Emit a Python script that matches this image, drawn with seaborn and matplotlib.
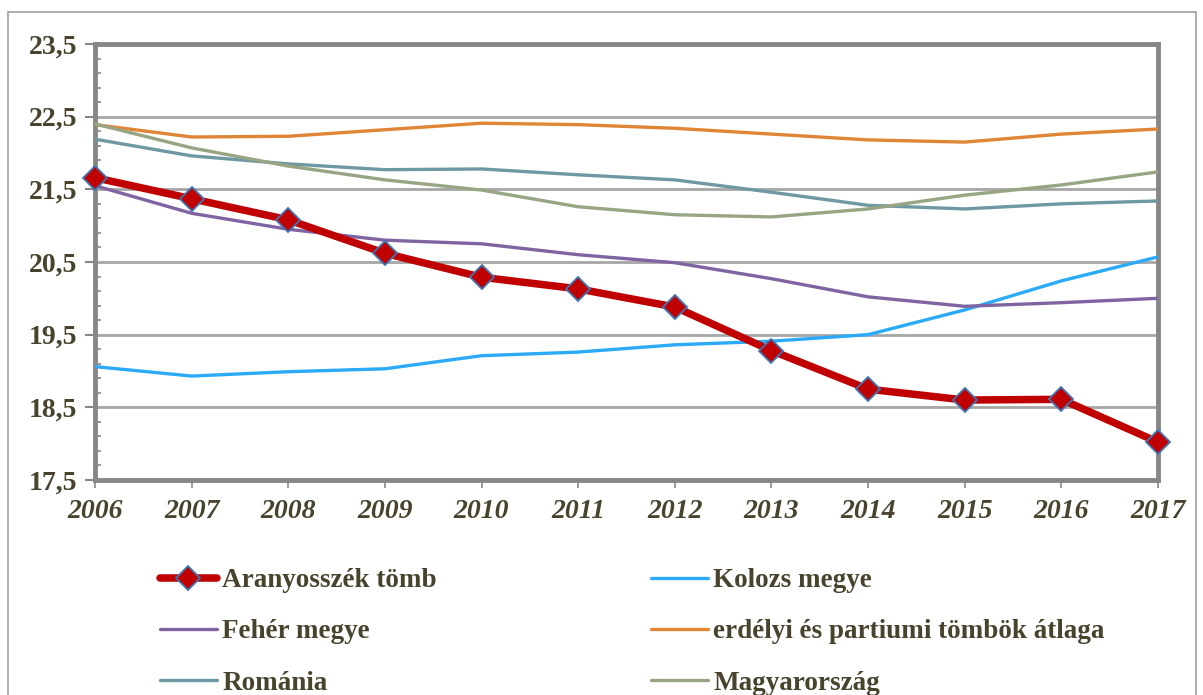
import numpy as np
import pandas as pd
import seaborn as sns
import matplotlib.pyplot as plt
from matplotlib.patches import Rectangle

# data
years = [2006, 2007, 2008, 2009, 2010, 2011, 2012, 2013, 2014, 2015, 2016, 2017]
aranyosszek = [21.66, 21.37, 21.08, 20.62, 20.29, 20.13, 19.88, 19.28, 18.75, 18.60, 18.61, 18.02]
kolozs = [19.06, 18.93, 18.99, 19.03, 19.21, 19.26, 19.36, 19.41, 19.50, 19.84, 20.24, 20.57]
feher = [21.55, 21.17, 20.95, 20.80, 20.75, 20.60, 20.49, 20.27, 20.02, 19.89, 19.94, 20.00]
erdelyi = [22.39, 22.22, 22.23, 22.32, 22.41, 22.39, 22.34, 22.26, 22.18, 22.15, 22.26, 22.33]
romania = [22.19, 21.96, 21.85, 21.77, 21.78, 21.70, 21.63, 21.46, 21.28, 21.23, 21.30, 21.34]
magyar = [22.40, 22.07, 21.82, 21.63, 21.49, 21.26, 21.15, 21.12, 21.23, 21.42, 21.56, 21.74]

y_ticks = [17.5, 18.5, 19.5, 20.5, 21.5, 22.5, 23.5]
y_labels = ['17,5', '18,5', '19,5', '20,5', '21,5', '22,5', '23,5']

names = ['Aranyosszék tömb', 'Kolozs megye', 'Fehér megye',
         'erdélyi és partiumi tömbök átlaga', 'Románia', 'Magyarország']
series = [aranyosszek, kolozs, feher, erdelyi, romania, magyar]
colors = ['#C00000', '#2AAAF7', '#8064A2', '#DE8536', '#6E98A2', '#98A583']

sns.set_style('white')
plt.rcParams['font.family'] = ['Liberation Serif', 'DejaVu Serif']
txt_color = '#48432C'

fig = plt.figure(figsize=(12.03, 6.95), dpi=100)
ax = fig.add_axes([0.079, 0.3094, 0.8836, 0.6273])

# outer frame of the chart
fig.patches.append(Rectangle((0.0067, -0.02), 0.9873, 1.003, transform=fig.transFigure,
                             fill=False, edgecolor='#A0A0A0', linewidth=1.2))

# draw order: thin lines first, red on top
for i in [1, 2, 3, 4, 5]:
    df = pd.DataFrame({'year': years, 'value': series[i]})
    sns.lineplot(data=df, x='year', y='value', ax=ax, color=colors[i],
                 linewidth=2.4, label=names[i], zorder=3)

df = pd.DataFrame({'year': years, 'value': aranyosszek})
sns.lineplot(data=df, x='year', y='value', ax=ax, color=colors[0], linewidth=5.4,
             marker='D', markersize=12, markerfacecolor='#C00000',
             markeredgecolor='#3D76B5', markeredgewidth=1.3, label=names[0],
             zorder=4, clip_on=False)

ax.set_xlim(2006, 2017)
ax.set_ylim(17.5, 23.5)
ax.set_xticks(years)
ax.set_yticks(y_ticks)
ax.set_yticklabels(y_labels)
ax.set_yticks(np.arange(17.7, 23.5, 0.2), minor=True)
ax.set_xlabel('')
ax.set_ylabel('')

ax.grid(axis='y', which='major', color='#A6A6A6', linewidth=2)
for s in ax.spines.values():
    s.set_color('#878787')
    s.set_linewidth(3.5)
    s.set_visible(True)

ax.tick_params(axis='y', which='major', direction='out', length=7, width=1.5,
               color='#878787', left=True, pad=6)
ax.tick_params(axis='y', which='minor', direction='in', length=4, width=1.2,
               color='#878787', left=True)
ax.tick_params(axis='x', which='major', direction='out', length=6, width=1.2,
               color='#878787', bottom=True, pad=8)

for lab in ax.get_yticklabels():
    lab.set_fontsize(20)
    lab.set_fontweight('bold')
    lab.set_color(txt_color)
for lab in ax.get_xticklabels():
    lab.set_fontsize(20)
    lab.set_fontweight('bold')
    lab.set_fontstyle('italic')
    lab.set_color(txt_color)

# legend in two columns, filled row by row
handles, labels = ax.get_legend_handles_labels()
lookup = dict(zip(labels, handles))
order = [names[0], names[2], names[4], names[1], names[3], names[5]]
ax.legend_.remove()
leg = fig.legend([lookup[n] for n in order], order, ncol=2, loc='upper left',
                 bbox_to_anchor=(160 / 1203, 1 - 568 / 695), frameon=False,
                 borderpad=0, borderaxespad=0, handlelength=2.1, handletextpad=0.2,
                 columnspacing=7.9, labelspacing=0.97,
                 prop={'family': 'Liberation Serif', 'weight': 'bold', 'size': 19.5})
for t in leg.get_texts():
    t.set_color(txt_color)

fig.savefig('out.png', dpi=100)
